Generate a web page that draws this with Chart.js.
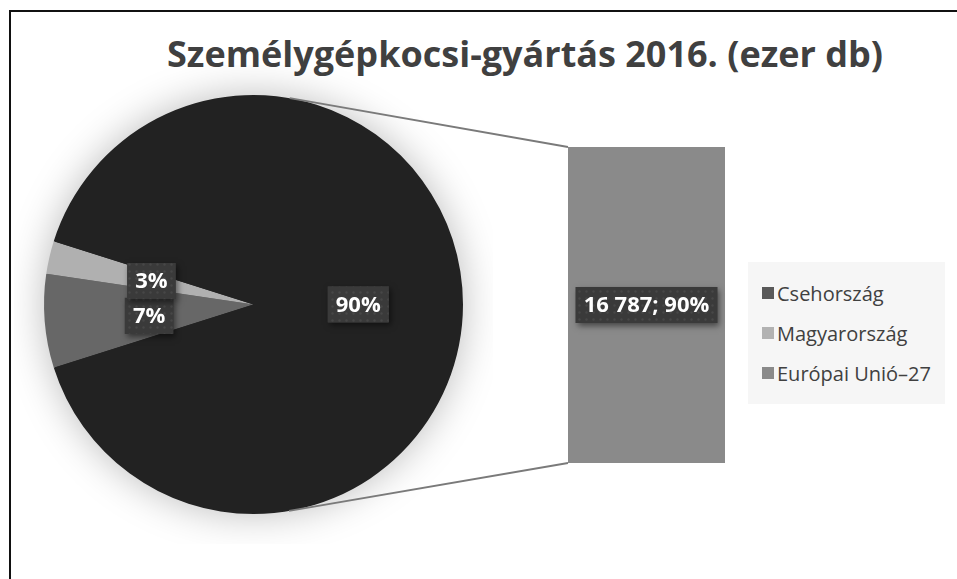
<!DOCTYPE html>
<html>
<head>
<meta charset="utf-8">
<script src="https://cdn.jsdelivr.net/npm/chart.js@4.4.1/dist/chart.umd.min.js"></script>
<style>
  html, body { margin: 0; padding: 0; width: 957px; height: 579px; overflow: hidden; background: #fff; font-family: "Open Sans", sans-serif; }
  #frame { position: absolute; left: 9px; top: 10px; width: 1100px; height: 700px; border-left: 2px solid #111; border-top: 2px solid #111; }
  #title { position: absolute; left: 0; top: 29px; width: 1050px; text-align: center; font-weight: 700; font-size: 36px; line-height: 50px; color: #404040; white-space: nowrap; }
  .box { position: absolute; }
  #pieBox { left: 14px; top: 65px; width: 479px; height: 479px; }
  #barBox { left: 548px; top: 127px; width: 197px; height: 356px; }
  #lines { position: absolute; left: 0; top: 0; pointer-events: none; }
  #legend { position: absolute; left: 748px; top: 262px; width: 197px; height: 142px; background: #f6f6f6; box-sizing: border-box; padding-top: 11px; }
  .item { height: 40px; display: flex; align-items: center; font-size: 20px; color: #404040; }
  .sw { width: 12px; height: 12px; margin-left: 14px; margin-right: 3px; }
</style>
</head>
<body>
<div id="frame"></div>
<div id="title">Személygépkocsi-gyártás 2016. (ezer db)</div>
<div class="box" id="pieBox"><canvas id="pie"></canvas></div>
<div class="box" id="barBox"><canvas id="bar"></canvas></div>
<canvas id="lines" width="957" height="579"></canvas>
<div id="legend"></div>
<script>
// production 2016, thousand cars
const categories = ["Csehország", "Magyarország", "Európai Unió–27"];
const values = [1344, 472, 16787];
const sliceColors = ["#676767", "#b0b0b0", "#222222"];
const legendColors = ["#595959", "#b2b2b2", "#8a8a8a"];
const barColor = "#8a8a8a";
// last item goes to the bar on the right
const barIndex = 2;

const total = values.reduce((a, b) => a + b, 0);
const pct = (v) => `${Math.round((v / total) * 100)}%`;
const fmt = (v) => String(v).replace(/\B(?=(\d{3})+(?!\d))/g, " ");

// dotted dark tag behind labels
const patCanvas = document.createElement("canvas");
patCanvas.width = 7;
patCanvas.height = 7;
const pctx = patCanvas.getContext("2d");
pctx.fillStyle = "#3a3a3a";
pctx.fillRect(0, 0, 7, 7);
pctx.fillStyle = "#474747";
pctx.beginPath();
pctx.arc(3.5, 3.5, 1.2, 0, Math.PI * 2);
pctx.fill();

function drawTag(ctx, text, x, y) {
  ctx.save();
  ctx.font = "bold 22px 'Open Sans'";
  const w = ctx.measureText(text).width + 16;
  const h = 36;
  ctx.shadowColor = "rgba(0,0,0,0.5)";
  ctx.shadowBlur = 6;
  ctx.shadowOffsetX = 2;
  ctx.shadowOffsetY = 3;
  ctx.fillStyle = "#3a3a3a";
  ctx.fillRect(x - w / 2, y - h / 2, w, h);
  ctx.shadowColor = "transparent";
  ctx.fillStyle = ctx.createPattern(patCanvas, "repeat");
  ctx.fillRect(x - w / 2, y - h / 2, w, h);
  ctx.fillStyle = "#ffffff";
  ctx.textAlign = "center";
  ctx.textBaseline = "middle";
  ctx.fillText(text, x, y + 1);
  ctx.restore();
}

const pieShadow = {
  id: "pieShadow",
  beforeDatasetsDraw(chart) {
    const arc = chart.getDatasetMeta(0).data[0];
    const ctx = chart.ctx;
    ctx.save();
    ctx.shadowColor = "rgba(0,0,0,0.28)";
    ctx.shadowBlur = 40;
    ctx.fillStyle = "#222";
    ctx.beginPath();
    ctx.arc(arc.x, arc.y, arc.outerRadius - 1, 0, Math.PI * 2);
    ctx.fill();
    ctx.restore();
  },
  afterDraw(chart) {
    const meta = chart.getDatasetMeta(0);
    meta.data.forEach((el, i) => {
      const p = el.tooltipPosition();
      drawTag(chart.ctx, pct(values[i]), p.x, p.y + (i === 0 ? 3 : 0));
    });
  },
};

const barDecor = {
  id: "barDecor",
  beforeDatasetsDraw(chart) {
    chart.ctx.save();
    chart.ctx.shadowColor = "rgba(0,0,0,0.25)";
    chart.ctx.shadowBlur = 30;
  },
  afterDatasetsDraw(chart) {
    chart.ctx.restore();
  },
  afterDraw(chart) {
    const el = chart.getDatasetMeta(0).data[0];
    const v = values[barIndex];
    drawTag(chart.ctx, `${fmt(v)}; ${pct(v)}`, el.x, (el.y + el.base) / 2);
  },
};

const pieChart = new Chart(document.getElementById("pie"), {
  type: "pie",
  data: {
    labels: categories,
    datasets: [{ data: values, backgroundColor: sliceColors, borderWidth: 0, hoverOffset: 0 }],
  },
  options: {
    responsive: true,
    maintainAspectRatio: false,
    animation: false,
    events: [],
    rotation: 252.4,
    layout: { padding: 30 },
    plugins: { legend: { display: false }, tooltip: { enabled: false }, title: { display: false } },
  },
  plugins: [pieShadow],
});

const barChart = new Chart(document.getElementById("bar"), {
  type: "bar",
  data: {
    labels: [categories[barIndex]],
    datasets: [{ data: [values[barIndex]], backgroundColor: barColor, borderWidth: 0, barPercentage: 1, categoryPercentage: 1 }],
  },
  options: {
    responsive: true,
    maintainAspectRatio: false,
    animation: false,
    events: [],
    layout: { padding: 20 },
    scales: {
      x: { display: false },
      y: { display: false, min: 0, max: values[barIndex] },
    },
    plugins: { legend: { display: false }, tooltip: { enabled: false } },
  },
  plugins: [barDecor],
});

// connector lines: tangents from the pie to the bar corners
function drawConnectors() {
  const pieBox = document.getElementById("pieBox");
  const barBox = document.getElementById("barBox");
  const arc = pieChart.getDatasetMeta(0).data[0];
  const bar = barChart.getDatasetMeta(0).data[0];
  const cx = pieBox.offsetLeft + arc.x;
  const cy = pieBox.offsetTop + arc.y;
  const r = arc.outerRadius;
  const left = barBox.offsetLeft + bar.x - bar.width / 2;
  const corners = [
    [left, barBox.offsetTop + bar.y, -1],
    [left, barBox.offsetTop + bar.base, 1],
  ];
  const ctx = document.getElementById("lines").getContext("2d");
  ctx.strokeStyle = "#7a7a7a";
  ctx.lineWidth = 1.8;
  corners.forEach(([px, py, side]) => {
    const d = Math.hypot(px - cx, py - cy);
    const a = Math.atan2(py - cy, px - cx) + side * Math.acos(r / d);
    ctx.beginPath();
    ctx.moveTo(cx + r * Math.cos(a), cy + r * Math.sin(a));
    ctx.lineTo(px, py);
    ctx.stroke();
  });
}
drawConnectors();

const legend = document.getElementById("legend");
categories.forEach((name, i) => {
  const row = document.createElement("div");
  row.className = "item";
  const sw = document.createElement("span");
  sw.className = "sw";
  sw.style.background = legendColors[i];
  const label = document.createElement("span");
  label.textContent = name;
  row.append(sw, label);
  legend.append(row);
});
</script>
</body>
</html>
